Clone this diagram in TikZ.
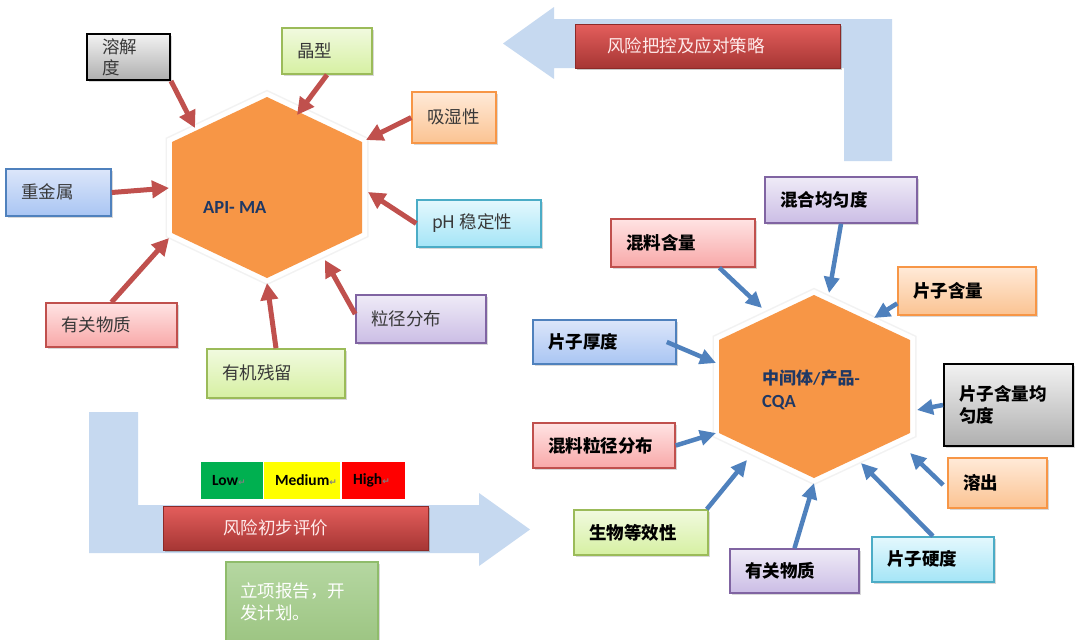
\documentclass[tikz,border=0pt]{standalone}
\usepackage{fontspec}
\newfontfamily\cjk{Noto Sans CJK SC}
\newfontfamily\calib{Carlito}
\newfontfamily\dvs{DejaVu Sans}
\usetikzlibrary{arrows.meta,shadows,calc}
\definecolor{barblue}{HTML}{C6D9F0}
\definecolor{hexor}{HTML}{F79646}
\definecolor{redarr}{HTML}{C0504D}
\definecolor{bluearr}{HTML}{4F81BD}
\definecolor{navy}{HTML}{1F3864}
\definecolor{bluebd}{HTML}{4F81BD}\definecolor{bluet}{HTML}{DCE6FA}\definecolor{blueb}{HTML}{A9C5F3}
\definecolor{greenbd}{HTML}{9BBB59}\definecolor{greent}{HTML}{F1FADF}\definecolor{greenb}{HTML}{D6F0A2}
\definecolor{orbd}{HTML}{F79646}\definecolor{ort}{HTML}{FFEAD8}\definecolor{orb}{HTML}{FBC392}
\definecolor{cyanbd}{HTML}{4BACC6}\definecolor{cyant}{HTML}{E4F8FD}\definecolor{cyanb}{HTML}{A4E5F7}
\definecolor{purbd}{HTML}{8064A2}\definecolor{purt}{HTML}{EFEBF7}\definecolor{purb}{HTML}{CBBDE5}
\definecolor{pinkbd}{HTML}{C0504D}\definecolor{pinkt}{HTML}{FFE3E3}\definecolor{pinkb}{HTML}{F8A8A8}
\definecolor{grayt}{HTML}{F2F2F2}\definecolor{grayb}{HTML}{AFAFAF}
\definecolor{redbt}{HTML}{E45E5C}\definecolor{redbb}{HTML}{A63634}\definecolor{redbd}{HTML}{8C2A28}
\definecolor{lowg}{HTML}{00B050}\definecolor{medy}{HTML}{FFFF00}\definecolor{highr}{HTML}{FF0000}
\definecolor{lxt}{HTML}{B5D7A1}\definecolor{lxb}{HTML}{9DC583}\definecolor{lxbd}{HTML}{8FBC6B}
\newcommand\ret{{\dvs\color{gray}\fontsize{9}{9}\selectfont ↵}}
% [raise]{name}{style}{x1}{y1}{x2}{y2}{text}
\newcommand\mkbox[8][4.5]{\node[#3, minimum width={#6-#4}, minimum height={#7-#5}] (#2) at ({(#4+#6)/2},{(#5+#7)/2}) {\raisebox{#1pt}{\parbox[c]{\dimexpr #6pt-#4pt-\pgfkeysvalueof{/pgf/inner xsep}-\pgfkeysvalueof{/pgf/inner xsep}\relax}{\raggedright #8}}};}
\tikzset{
  box/.style={draw, line width=1.6pt, inner xsep=15pt, inner ysep=0pt,
    font=\cjk\fontsize{17.5}{21}\selectfont,
    drop shadow={shadow xshift=1.5pt, shadow yshift=-1.8pt, opacity=0.3, fill=black!50}},
  lt/.style={box, text=black!78},
  rt/.style={box, text=black, font=\cjk\bfseries\fontsize{17.5}{22}\selectfont},
  bluebox/.style={draw=bluebd, top color=bluet, bottom color=blueb},
  greenbox/.style={draw=greenbd, top color=greent, bottom color=greenb},
  orbox/.style={draw=orbd, top color=ort, bottom color=orb},
  cyanbox/.style={draw=cyanbd, top color=cyant, bottom color=cyanb},
  purbox/.style={draw=purbd, top color=purt, bottom color=purb},
  pinkbox/.style={draw=pinkbd, top color=pinkt, bottom color=pinkb},
  graybox/.style={draw=black, line width=2pt, top color=grayt, bottom color=grayb},
  redbar/.style={draw=redbd, line width=0.8pt, top color=redbt, bottom color=redbb, text=white!92!red,
    inner ysep=0pt, font=\cjk\fontsize{17.5}{21}\selectfont,
    drop shadow={shadow xshift=1.5pt, shadow yshift=-2pt, opacity=0.35, fill=black!60}},
  lvl/.style={inner xsep=11pt, inner ysep=0pt, minimum height=37, font=\calib\bfseries\fontsize{15.5}{15.5}\selectfont},
  redarrow/.style={draw=redarr, line width=5pt, -{Triangle[length=17pt,width=17pt]}},
  bluearrow/.style={draw=bluearr, line width=4.5pt, -{Triangle[length=16pt,width=15pt]}},
  hexshadow/.style={draw=black!5, line width=13pt, line join=miter},
  hexrim/.style={draw=white, line width=10pt, line join=miter},
  hexfill/.style={fill=hexor},
  bigarrow/.style={fill=barblue},
}
\begin{document}
\begin{tikzpicture}[x=1pt,y=-1pt]
\useasboundingbox (0,0) rectangle (1080,640);
\fill[white] (0,0) rectangle (1080,640);

% big light-blue flow arrows
\fill[bigarrow] (89,412) -- (138,412) -- (138,505) -- (479,505) -- (479,493) -- (530,529.5)
  -- (479,566) -- (479,553) -- (89,553) -- cycle;
\fill[bigarrow] (892,19) -- (892,161) -- (844,161) -- (844,68) -- (554,68) -- (554,79)
  -- (503,43.5) -- (554,7) -- (554,19) -- cycle;

% hexagons
\draw[hexshadow] (267,97) -- (362,142) -- (362,233) -- (267,278) -- (172,233) -- (172,142) -- cycle;
\draw[hexrim] (267,97) -- (362,142) -- (362,233) -- (267,278) -- (172,233) -- (172,142) -- cycle;
\fill[hexfill] (267,97) -- (362,142) -- (362,233) -- (267,278) -- (172,233) -- (172,142) -- cycle;
\node[anchor=base west, inner sep=0, text=navy, font=\calib\bfseries\fontsize{18.5}{20}\selectfont] (api) at (203,213.5) {API- MA};

\draw[hexshadow] (814,295) -- (910,340) -- (910,433) -- (814,478) -- (719,433) -- (719,340) -- cycle;
\draw[hexrim] (814,295) -- (910,340) -- (910,433) -- (814,478) -- (719,433) -- (719,340) -- cycle;
\fill[hexfill] (814,295) -- (910,340) -- (910,433) -- (814,478) -- (719,433) -- (719,340) -- cycle;
\node[anchor=north west, inner sep=0, align=left, text=navy, font=\cjk\bfseries\fontsize{17}{22.5}\selectfont] (cqa) at (762,370)
  {中间体{\calib/}产品{\calib -}\\{\calib\fontsize{18.5}{22.5}\selectfont CQA}};

% left boxes
\mkbox[-6]{a1}{lt,graybox}{87}{34}{170}{80}{溶解\\度}
\mkbox{a2}{lt,greenbox}{282}{28}{372}{74}{晶型}
\mkbox[6]{a3}{lt,orbox}{412}{92}{496}{143}{吸湿性}
\mkbox{a4}{lt,bluebox}{6}{169}{111}{216}{重金属}
\mkbox{a5}{lt,cyanbox}{417}{200}{541}{247}{pH 稳定性}
\mkbox{a6}{lt,pinkbox}{46}{303}{177}{347}{有关物质}
\mkbox{a7}{lt,purbox}{356}{295}{486}{343}{粒径分布}
\mkbox[6]{a8}{lt,greenbox}{207}{349}{345}{398}{有机残留}

% right boxes
\mkbox{b1}{rt,bluebox}{533}{320}{676}{364}{片子厚度}
\mkbox{b2}{rt,pinkbox}{533}{423}{675}{468}{混料粒径分布}
\mkbox{b3}{rt,pinkbox}{611}{219}{755}{267}{混料含量}
\mkbox{b4}{rt,purbox}{765}{177}{917}{223}{混合均匀度}
\mkbox{b5}{rt,orbox}{898}{267}{1036}{315}{片子含量}
\mkbox[11]{b6}{rt,graybox}{944}{364}{1073}{446}{片子含量均\\匀度}
\mkbox{b7}{rt,orbox}{948}{458}{1047}{508}{溶出}
\mkbox{b8}{rt,greenbox}{574}{510}{708}{555}{生物等效性}
\mkbox{b9}{rt,purbox}{730}{549}{859}{593}{有关物质}
\mkbox{b10}{rt,cyanbox}{872}{537}{994}{582}{片子硬度}

% red arrows to API hexagon
\coordinate (t1) at (195,128);
\coordinate (t2) at (297,115);
\coordinate (t3) at (366,140);
\coordinate (t4) at (169,188);
\coordinate (t5) at (368,192);
\coordinate (t6) at (169,238);
\coordinate (t7) at (325,260);
\coordinate (t8) at (267,283);
\draw[redarrow] (a1.south east) -- (t1);
\draw[redarrow] (a2.south) -- (t2);
\draw[redarrow] (a3.west) -- (t3);
\draw[redarrow] (a4.east) -- (t4);
\draw[redarrow] (a5.west) -- (t5);
\draw[redarrow] (a6.north) -- (t6);
\draw[redarrow] ($(a7.north west)!0.4!(a7.south west)$) -- (t7);
\draw[redarrow] (a8.north) -- (t8);

% blue arrows to CQA hexagon
\coordinate (r1) at (716,363);
\coordinate (r2) at (716,433);
\coordinate (r3) at (762,308);
\coordinate (r4) at (829,293);
\coordinate (r5) at (874,318);
\coordinate (r6) at (917,410);
\coordinate (r7) at (910,453);
\coordinate (r8) at (747,460);
\coordinate (r9) at (814,483);
\coordinate (r10) at (861,463);
\draw[bluearrow] ($(b1.east)+(-10,0)$) -- (r1);
\draw[bluearrow] (b2.east) -- (r2);
\draw[bluearrow] ($(b3.south west)!0.75!(b3.south east)$) -- (r3);
\draw[bluearrow] (b4.south) -- (r4);
\draw[bluearrow] ($(b5.west)!0.5!(b5.south west)$) -- (r5);
\draw[bluearrow] (b6.west) -- (r6);
\draw[bluearrow] ($(b7.west)+(-4,2)$) -- (r7);
\draw[bluearrow] ($(b8.north east)+(-2,0)$) -- (r8);
\draw[bluearrow] (b9.north) -- (r9);
\draw[bluearrow] (b10.north) -- (r10);

% red banners
\mkbox[3]{ctrl}{redbar,inner xsep=32pt}{575}{24}{840}{68}{风险把控及应对策略}
\mkbox[3]{eval}{redbar,inner xsep=60pt}{163}{506}{428}{550}{风险初步评价}

% risk levels
\node[lvl, fill=lowg, minimum width=62, text width=40, align=left] (low) at (232,480.5) {Low\ret};
\node[lvl, fill=medy, minimum width=76, text width=54, align=left] (med) at (302,480.5) {Medium\ret};
\node[lvl, fill=highr, minimum width=63, text width=41, align=left] (high) at (373.5,480.5) {High\ret};

% project report box
\mkbox[8]{rep}{box,draw=lxbd,line width=1.2pt,top color=lxt,bottom color=lxb,text=white,inner xsep=14pt,font=\cjk\fontsize{17.5}{22}\selectfont}{226}{562}{378}{641}{立项报告，开\\发计划。}
\end{tikzpicture}
\end{document}
